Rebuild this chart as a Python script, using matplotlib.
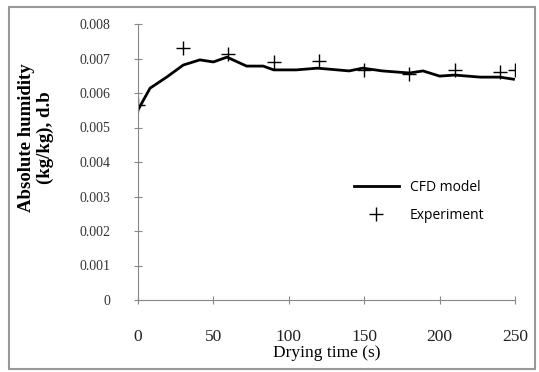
import matplotlib.pyplot as plt
import matplotlib.patches as patches
import numpy as np

# CFD model curve
t_cfd = [0, 8, 19, 30, 41, 50, 59, 66, 72, 83, 90, 105, 119, 140, 149, 162, 180, 189, 200, 210, 227, 240, 249]
h_cfd = [0.00551, 0.00614, 0.00646, 0.00681, 0.00696, 0.00690, 0.00704, 0.00690, 0.00678, 0.00678,
         0.00667, 0.00667, 0.00672, 0.00664, 0.00672, 0.00664, 0.00658, 0.00664, 0.00649, 0.00652,
         0.00646, 0.00646, 0.00640]

# experimental points
t_exp = [0, 30, 60, 90, 120, 150, 180, 210, 240, 250]
h_exp = [0.00565, 0.00730, 0.00713, 0.00690, 0.00693, 0.00667, 0.00655, 0.00667, 0.00660, 0.00667]

yticks = [0, 0.001, 0.002, 0.003, 0.004, 0.005, 0.006, 0.007, 0.008]
ytick_labels = ['0', '0.001', '0.002', '0.003', '0.004', '0.005', '0.006', '0.007', '0.008']
xticks = [0, 50, 100, 150, 200, 250]

W, H = 539, 372
fig = plt.figure(figsize=(W / 100, H / 100), dpi=100)
ax = fig.add_axes([138 / W, 1 - 300 / H, (515 - 138) / W, (300 - 24) / H])

ax.plot(t_cfd, h_cfd, color='black', lw=2, label='CFD model')
ax.plot(t_exp, h_exp, ls='none', marker='+', ms=10, mew=1, color='black', label='Experiment')

ax.set_xlim(0, 250)
ax.set_ylim(0, 0.008)
ax.set_xticks(xticks)
ax.set_yticks(yticks)
ax.set_yticklabels(ytick_labels)
for s in ['top', 'right']:
    ax.spines[s].set_visible(False)
for s in ['left', 'bottom']:
    ax.spines[s].set_color('#888888')
    ax.spines[s].set_linewidth(0.8)
ax.tick_params(direction='inout', length=6, color='#888888', width=0.8)
ax.tick_params(axis='y', labelsize=10, labelcolor='#333333', pad=17)
ax.tick_params(axis='x', labelsize=12.5, labelcolor='#222222', pad=18)
for lab in ax.get_xticklabels() + ax.get_yticklabels():
    lab.set_family('Liberation Serif')

ax.set_xlabel('Drying time (s)', family='Liberation Serif', fontsize=12.5, labelpad=0)
fig.text(36 / W, 1 - 138 / H, 'Absolute humidity\n(kg/kg), d.b', rotation=90,
         ha='center', va='center', family='Liberation Serif', fontweight='bold',
         fontsize=13.5, linespacing=1.1)

ax.legend(loc='upper left', bbox_to_anchor=(0.54, 0.48), frameon=False,
          prop={'family': 'Open Sans', 'size': 10}, handlelength=3.2, labelspacing=0.9)

fig.patches.append(patches.Rectangle((9 / W, 3 / H), 526 / W, 362 / H, transform=fig.transFigure,
                                     fill=False, edgecolor='#999999', lw=1.5))

fig.savefig('out.png', dpi=100)
